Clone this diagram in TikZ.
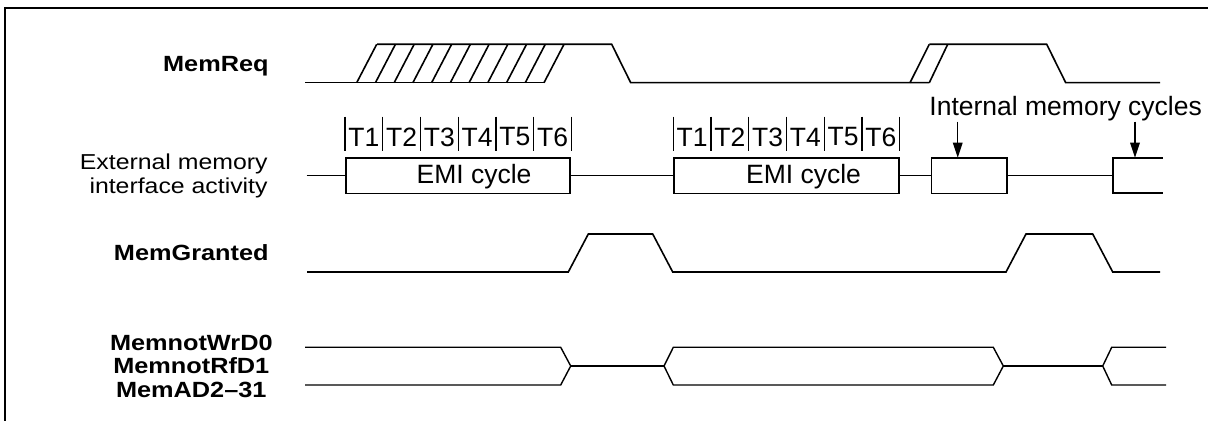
\documentclass[tikz,border=0pt]{standalone}
\usepackage{fontspec}
\setmainfont{Liberation Sans}
\newfontfamily\sidefont{Liberation Sans}[FakeStretch=1.15]
\newfontfamily\sidebold{Liberation Sans Bold}[FakeStretch=1.15]
\usetikzlibrary{arrows.meta}

\begin{document}
\begin{tikzpicture}[
        x=0.5pt, y=-0.5pt,
        sig/.style={line width=0.8pt, line join=miter},
        busline/.style={line width=0.7pt},
        busmid/.style={line width=1.1pt},
        cyc/.style={rectangle, draw, line width=0.85pt, inner sep=0pt, minimum height=17.8pt, anchor=west},
        sidetext/.style={font=\sidefont\fontsize{10.8}{11.75}\selectfont, inner sep=0pt},
        signame/.style={sidetext, font=\sidebold\fontsize{11}{11.75}\selectfont},
        note/.style={font=\fontsize{13.25}{15}\selectfont, inner sep=0pt},
        tmark/.style={line width=0.65pt},
        pointer/.style={-{Triangle[length=7.5pt,width=4.8pt]}, line width=0.65pt}
    ]
        \useasboundingbox (0,0) rectangle (1208,421);
        \draw[line width=1pt] (1208,8.3) -- (4.7,8.3) -- (4.7,421);

        % Signal names
        \node[signame, anchor=base east] (REQ) at (269,71.2) {MemReq};
        \node[sidetext, anchor=east, align=right] (EMI) at (268,175.7) {External memory\\interface activity};
        \node[signame, anchor=base east] (GNT) at (269,260.7) {MemGranted};
        \node[signame, anchor=east, align=center] (BUS) at (273,366) {MemnotWrD0\\MemnotRfD1\\MemAD2–31};

        % MemReq
        \draw[sig] (305,82.7) -- (544,82.7);
        \foreach \b in {0,...,10}
            \draw[sig] (356.7+18.73*\b,82.7) -- ++(20,-38.4);
        \draw[sig] (377,44.3) -- (611.7,44.3) -- (630.7,82.7) -- (929.3,82.7);
        \draw[sig] (910,82.7) -- ++(19.3,-38.4);
        \draw[sig] (929.3,82.7) -- ++(18.4,-38.4);
        \draw[sig] (929.3,44.3) -- (1046.7,44.3) -- (1065.7,82.7) -- (1160,82.7);

        % External memory interface activity
        \coordinate (START) at (306.7,175.7);
        \node[cyc, minimum width=112.15pt] (E1) at (345,175.7) {};
        \node[cyc, minimum width=112.35pt] (E2) at (673.3,175.7) {};
        \node[cyc, minimum width=37.65pt] (I1) at (930.7,175.7) {};
        \coordinate (I2) at (1112.7,175.7);
        \draw[line width=0.85pt] (1162.7,157.7) -| (1112.7,193.3) -- (1162.7,193.3);
        \draw[sig] (START) -- (E1.west) (E1.east) -- (E2.west) (E2.east) -- (I1.west) (I1.east) -- (I2);
        \node[note, anchor=base] (E1T) at (474,184) {EMI cycle};
        \node[note, anchor=base] (E2T) at (803.5,184) {EMI cycle};

        \foreach \s in {345,673.3} {
            \foreach \i in {0,...,6}
                \draw[tmark] (\s+37.75*\i,116.7) -- (\s+37.75*\i,151);
            \foreach \i in {1,...,6}
                \node[note] at (\s+37.75*\i-18.9,137) {T\i};
        }

        % Internal memory cycles
        \node[note, anchor=base west] (INTL) at (929,115.7) {Internal memory cycles};
        \coordinate (P1) at (957.7,157.7);
        \coordinate (P2) at (1135,157.7);
        \draw[pointer] (INTL.south -| P1) -- (P1);
        \draw[pointer] (INTL.south -| P2) -- (P2);

        % MemGranted
        \draw[sig] (307,272) -- (568.3,272) -- (588.3,234) -- (652.7,234) -- (672.7,272)
            -- (1006,272) -- (1026,234) -- (1092.7,234) -- (1112.7,272) -- (1160,272);

        % Address / data bus
        \draw[busline] (305,347.3) -- (560.7,347.3) -- (570.7,366) -- (560.7,385) -- (305,385);
        \draw[busmid] (570.7,366) -- (664,366);
        \draw[busline] (664,366) -- (673.3,347.3) -- (993.3,347.3) -- (1003.3,366)
            -- (993.3,385) -- (673.3,385) -- cycle;
        \draw[busmid] (1003.3,366) -- (1102.7,366);
        \draw[busline] (1166,347.3) -- (1111.7,347.3) -- (1102.7,366) -- (1111.7,385) -- (1166,385);
    \end{tikzpicture}
\end{document}
